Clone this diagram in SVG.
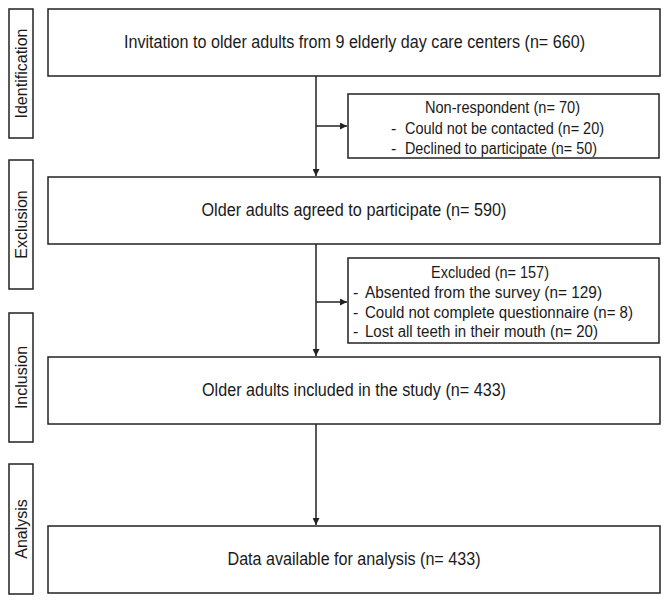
<svg xmlns="http://www.w3.org/2000/svg" width="669" height="603" viewBox="0 0 669 603">
<style>
.box{fill:#fff;stroke:#222;stroke-width:1.5}
.t{font-family:"Liberation Sans",Arial,sans-serif;fill:#1a1a1a}
.m{font-size:17.5px;text-anchor:middle}
.l{font-size:16px;text-anchor:middle}
.s{font-size:16px}
.c{text-anchor:middle}
.ln{stroke:#222;stroke-width:1.5;fill:none}
</style>
<defs>
<marker id="ah" viewBox="0 0 10 10" refX="10" refY="5" markerWidth="7" markerHeight="7" orient="auto" markerUnits="userSpaceOnUse">
<path d="M0,0 L10,5 L0,10 z" fill="#222"/>
</marker>
</defs>
<rect width="669" height="603" fill="#fff"/>
<g id="lab-identification"><rect class="box" x="9" y="9" width="24" height="129"/><text class="t l" transform="translate(26.5,73.5) rotate(-90)" textLength="90" lengthAdjust="spacingAndGlyphs">Identification</text></g>
<g id="lab-exclusion"><rect class="box" x="9" y="160" width="24" height="129"/><text class="t l" transform="translate(26.5,224.5) rotate(-90)">Exclusion</text></g>
<g id="lab-inclusion"><rect class="box" x="9" y="313" width="24" height="129"/><text class="t l" transform="translate(26.5,377.5) rotate(-90)">Inclusion</text></g>
<g id="lab-analysis"><rect class="box" x="9" y="464" width="24" height="130"/><text class="t l" transform="translate(26.5,529) rotate(-90)">Analysis</text></g>
<g id="n1"><rect class="box" x="48" y="9" width="612" height="67"/><text class="t m" x="354.5" y="48" textLength="461" lengthAdjust="spacingAndGlyphs">Invitation to older adults from 9 elderly day care centers (n= 660)</text></g>
<g id="n2"><rect class="box" x="348" y="94" width="311" height="64"/>
<text class="t s c" x="502.5" y="113" textLength="155" lengthAdjust="spacingAndGlyphs">Non-respondent (n= 70)</text>
<text class="t s" x="391" y="134">-</text><text class="t s" x="405" y="134" textLength="199" lengthAdjust="spacingAndGlyphs">Could not be contacted (n= 20)</text>
<text class="t s" x="391" y="154">-</text><text class="t s" x="405" y="154" textLength="192" lengthAdjust="spacingAndGlyphs">Declined to participate (n= 50)</text></g>
<g id="n3"><rect class="box" x="48" y="177" width="612" height="67"/><text class="t m" x="354" y="216" textLength="305" lengthAdjust="spacingAndGlyphs">Older adults agreed to participate (n= 590)</text></g>
<g id="n4"><rect class="box" x="348" y="258" width="311" height="85"/>
<text class="t s c" x="490" y="278" textLength="118" lengthAdjust="spacingAndGlyphs">Excluded (n= 157)</text>
<text class="t s" x="353" y="298">-</text><text class="t s" x="365" y="298" textLength="237" lengthAdjust="spacingAndGlyphs">Absented from the survey (n= 129)</text>
<text class="t s" x="353" y="318">-</text><text class="t s" x="365" y="318" textLength="268" lengthAdjust="spacingAndGlyphs">Could not complete questionnaire (n= 8)</text>
<text class="t s" x="353" y="337">-</text><text class="t s" x="365" y="337" textLength="233" lengthAdjust="spacingAndGlyphs">Lost all teeth in their mouth (n= 20)</text></g>
<g id="n5"><rect class="box" x="48" y="357" width="612" height="67"/><text class="t m" x="354" y="396" textLength="304" lengthAdjust="spacingAndGlyphs">Older adults included in the study (n= 433)</text></g>
<g id="n6"><rect class="box" x="48" y="526" width="612" height="67"/><text class="t m" x="354" y="565" textLength="253" lengthAdjust="spacingAndGlyphs">Data available for analysis (n= 433)</text></g>
<g id="connectors">
<line class="ln" x1="316" y1="76" x2="316" y2="176" marker-end="url(#ah)"/>
<line class="ln" x1="316" y1="126" x2="347" y2="126" marker-end="url(#ah)"/>
<line class="ln" x1="316" y1="244" x2="316" y2="356" marker-end="url(#ah)"/>
<line class="ln" x1="316" y1="302" x2="347" y2="302" marker-end="url(#ah)"/>
<line class="ln" x1="316" y1="424" x2="316" y2="525" marker-end="url(#ah)"/>
</g>
</svg>
